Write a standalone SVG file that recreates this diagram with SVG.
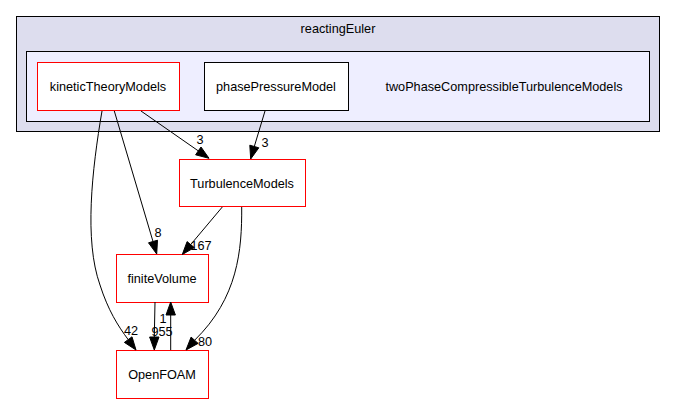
<svg xmlns="http://www.w3.org/2000/svg" width="676" height="404" viewBox="0 0 676 404">
<style>
text{font-family:"Liberation Sans",Arial,sans-serif;font-size:12.7px;fill:#000}
.c{text-anchor:middle}
.n{fill:#fff;stroke:#ff0000;stroke-width:1}
.e{fill:none;stroke:#000;stroke-width:1}
.a{fill:#000;stroke:#000;stroke-width:1}
</style>
<rect width="676" height="404" fill="#fff"/>
<g id="cluster_reactingEuler">
<rect x="16.5" y="16.5" width="643" height="115" fill="#ddddee" stroke="#000"/>
<text class="c" x="338" y="33">reactingEuler</text>
</g>
<g id="cluster_twoPhase">
<rect x="26.5" y="51.5" width="623" height="70" fill="#eeeeff" stroke="#000"/>
<text class="c" x="504" y="91">twoPhaseCompressibleTurbulenceModels</text>
</g>
<g id="kineticTheoryModels">
<rect class="n" x="37.5" y="62.5" width="142" height="48"/>
<text class="c" x="108" y="91">kineticTheoryModels</text>
</g>
<g id="phasePressureModel">
<rect x="204.5" y="62.5" width="144" height="48" fill="#fff" stroke="#000"/>
<text class="c" x="276" y="91">phasePressureModel</text>
</g>
<g id="TurbulenceModels">
<rect class="n" x="179.5" y="159.5" width="126" height="47"/>
<text class="c" x="242" y="187.5">TurbulenceModels</text>
</g>
<g id="finiteVolume">
<rect class="n" x="116.5" y="254.5" width="92" height="48"/>
<text class="c" x="162" y="283">finiteVolume</text>
</g>
<g id="OpenFOAM">
<rect class="n" x="116.5" y="350.5" width="92" height="48"/>
<text class="c" x="162" y="379">OpenFOAM</text>
</g>
<g id="edges">
<path class="e" d="M102,111 C92,170 84,240 100,285 C108,310 118,326 128.2,339.6"/>
<polygon class="a" points="124.4,342.4 132,336.8 136,350"/>
<text class="c" x="131" y="335">42</text>
<path class="e" d="M114.3,111 L153,241.5"/>
<polygon class="a" points="157.5,240.2 148.5,242.8 156.7,254"/>
<text class="c" x="158" y="237">8</text>
<path class="e" d="M141,111 L198.3,150.9"/>
<polygon class="a" points="201,147 195.6,154.8 209,158.3"/>
<text class="c" x="200" y="144">3</text>
<path class="e" d="M265,111 L254.3,146.5"/>
<polygon class="a" points="258.8,147.8 249.8,145.2 250.7,159"/>
<text class="c" x="265" y="147">3</text>
<path class="e" d="M222.3,207 L190.7,244.6"/>
<polygon class="a" points="194.3,247.6 187.1,241.6 182.3,254.5"/>
<text class="c" x="201" y="250">167</text>
<path class="e" d="M241.7,207 C242,250 238,298 194.6,340.25"/>
<polygon class="a" points="198.1,343.4 191.1,337.1 186,350"/>
<text class="c" x="205" y="346">80</text>
<path class="e" d="M155,302 L154.3,337"/>
<polygon class="a" points="149.6,337 159,337 154.3,350"/>
<text class="c" x="162" y="336">955</text>
<path class="e" d="M170.7,350 L170.7,315"/>
<polygon class="a" points="166,315 175.4,315 170.7,302"/>
<text class="c" x="163" y="323">1</text>
</g>
</svg>
